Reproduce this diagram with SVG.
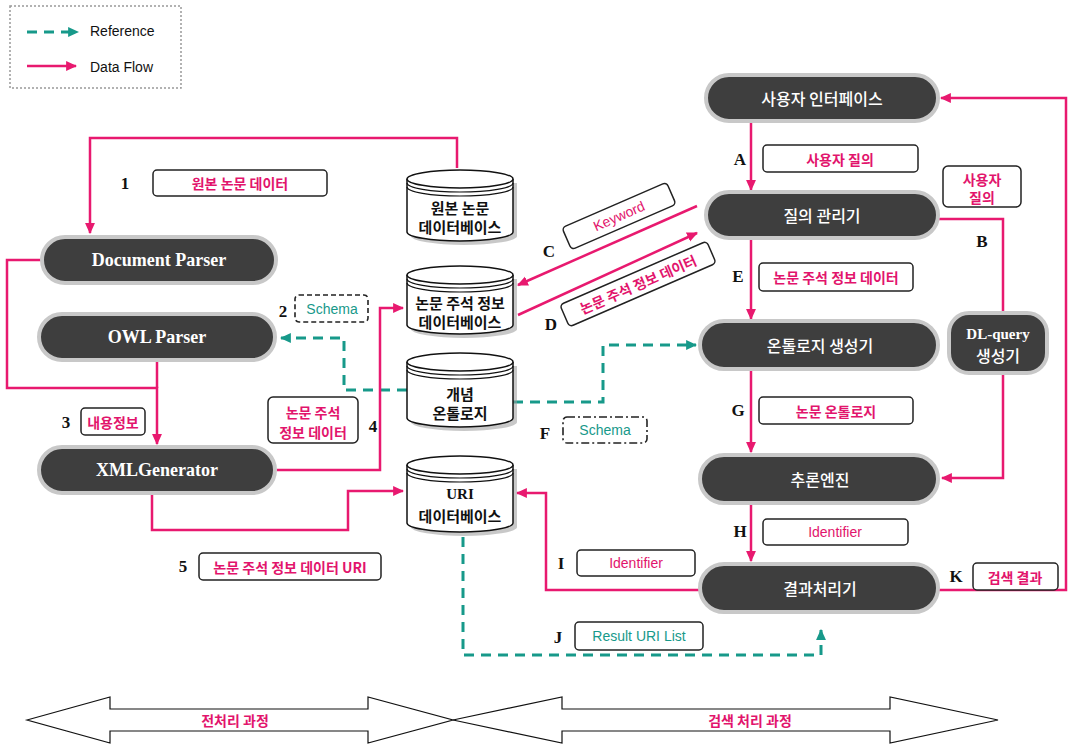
<svg xmlns="http://www.w3.org/2000/svg" width="1069" height="745" viewBox="0 0 1069 745">
<style>
.pill{fill:#3e3e3e;stroke:#c8c8c8;stroke-width:4}
.nt{fill:#fff;font-family:"Noto Sans CJK KR",sans-serif;font-size:16px;font-weight:500;text-anchor:middle;dominant-baseline:central}
.ne{fill:#fff;font-family:"Liberation Serif",serif;font-size:18px;font-weight:bold;text-anchor:middle;dominant-baseline:central}
.cyl{fill:#fff;stroke:#111;stroke-width:1.5}
.cylsh{fill:#9a9a9a;opacity:.55}
.ring{fill:none;stroke:#111;stroke-width:1.2}
.ct{fill:#111;font-family:"Noto Sans CJK KR",sans-serif;font-size:15px;font-weight:bold;text-anchor:middle;dominant-baseline:central}
.box{fill:#fff;stroke:#222;stroke-width:1.5}
.dbox{fill:#fff;stroke:#222;stroke-width:1.6;stroke-dasharray:5,3}
.ddbox{fill:#fff;stroke:#222;stroke-width:1.6;stroke-dasharray:8,3,2,3}
.lk{fill:#e2146c;font-family:"Noto Sans CJK KR",sans-serif;font-size:14px;font-weight:bold;text-anchor:middle;dominant-baseline:central}
.le{fill:#e2146c;font-family:"Liberation Sans",sans-serif;font-size:14px;text-anchor:middle;dominant-baseline:central}
.lt{fill:#17998a;font-family:"Liberation Sans",sans-serif;font-size:14px;text-anchor:middle;dominant-baseline:central}
.let{fill:#111;font-family:"Liberation Serif",serif;font-size:17px;font-weight:bold;text-anchor:middle;dominant-baseline:central}
.pk{fill:none;stroke:#e8196f;stroke-width:2.5}
.tl{fill:none;stroke:#17998a;stroke-width:3;stroke-dasharray:10,7}
.bar{fill:#fff;stroke:#111;stroke-width:1.2}
.leg{fill:#111;font-family:"Liberation Sans",sans-serif;font-size:14px;dominant-baseline:central}
</style>
<defs>
<marker id="ap" viewBox="0 0 10 10" refX="9" refY="5" markerWidth="11" markerHeight="11" markerUnits="userSpaceOnUse" orient="auto"><path d="M0,0.5 L10,5 L0,9.5 z" fill="#e8196f"/></marker>
<marker id="at" viewBox="0 0 10 10" refX="9" refY="5" markerWidth="11" markerHeight="11" markerUnits="userSpaceOnUse" orient="auto"><path d="M0,0.5 L10,5 L0,9.5 z" fill="#17998a"/></marker>
</defs>
<rect width="1069" height="745" fill="#fff"/>

<g id="legend">
<rect x="10" y="6" width="171" height="82" fill="none" stroke="#999" stroke-width="1.5" stroke-dasharray="2,2"/>
<path d="M27,32 H78" class="tl" stroke-dasharray="8,6" marker-end="url(#at)"/>
<text x="90" y="31" class="leg">Reference</text>
<path d="M27,66 H76" class="pk" marker-end="url(#ap)"/>
<text x="90" y="67" class="leg">Data Flow</text>
</g>

<g id="connectors">
<path class="pk" d="M457,168 V138 H90 V233" marker-end="url(#ap)"/>
<path class="pk" d="M42,260 H7 V388 H157 V444" marker-end="url(#ap)"/>
<path class="pk" d="M157,360 V388"/>
<path class="tl" d="M407,390 H344 V338 H281" marker-end="url(#at)"/>
<path class="pk" d="M277,470 H380 V308 H403" marker-end="url(#ap)"/>
<path class="pk" d="M152,493 V530 H348 V491 H403" marker-end="url(#ap)"/>
<path class="pk" d="M751,122 V190" marker-end="url(#ap)"/>
<path class="pk" d="M697,206 L518,285" marker-end="url(#ap)"/>
<path class="pk" d="M518,315 L697,233" marker-end="url(#ap)"/>
<path class="pk" d="M938,219 H1003 V313"/>
<path class="pk" d="M1003,373 V478 H942" marker-end="url(#ap)"/>
<path class="pk" d="M751,238 V319" marker-end="url(#ap)"/>
<path class="tl" d="M513,402 H603 V345 H696" marker-end="url(#at)"/>
<path class="pk" d="M751,370 V452" marker-end="url(#ap)"/>
<path class="pk" d="M751,503 V561" marker-end="url(#ap)"/>
<path class="pk" d="M700,590 H546 V493 H517" marker-end="url(#ap)"/>
<path class="tl" d="M463,537 V655 H821 V630" marker-end="url(#at)"/>
<path class="pk" d="M938,590 H1066 V98 H941" marker-end="url(#ap)"/>
</g>

<g id="n-docparser"><rect class="pill" x="42" y="237" width="234" height="46" rx="23"/><text class="ne" x="159" y="260">Document Parser</text></g>
<g id="n-owlparser"><rect class="pill" x="39" y="314" width="236" height="46" rx="23"/><text class="ne" x="157" y="337">OWL Parser</text></g>
<g id="n-xmlgen"><rect class="pill" x="39" y="447" width="236" height="46" rx="23"/><text class="ne" x="157" y="470">XMLGenerator</text></g>
<g id="n-ui"><rect class="pill" x="706" y="75" width="232" height="46" rx="23"/><text class="nt" x="822" y="98">사용자 인터페이스</text></g>
<g id="n-query"><rect class="pill" x="706" y="192" width="232" height="46" rx="23"/><text class="nt" x="822" y="215">질의 관리기</text></g>
<g id="n-ontogen"><rect class="pill" x="700" y="321" width="238" height="48" rx="24"/><text class="nt" x="820" y="345">온톨로지 생성기</text></g>
<g id="n-reason"><rect class="pill" x="700" y="455" width="238" height="48" rx="24"/><text class="nt" x="820" y="479">추론엔진</text></g>
<g id="n-result"><rect class="pill" x="700" y="564" width="238" height="48" rx="24"/><text class="nt" x="820" y="588">결과처리기</text></g>
<g id="n-dlquery"><rect class="pill" x="949" y="313" width="98" height="60" rx="20"/><text class="ne" x="998" y="334" style="font-size:15px">DL-query</text><text class="nt" x="998" y="355">생성기</text></g>

<g id="db-orig">
<path class="cylsh" d="M411,183 V236 A53,9 0 0 0 517,236 V183 z"/>
<path class="cyl" d="M407,179 V232 A53,9 0 0 0 513,232 V179"/>
<ellipse class="cyl" cx="460" cy="179" rx="53" ry="9"/>
<path class="ring" d="M407,183 A53,9 0 0 0 513,183 M407,187 A53,9 0 0 0 513,187"/>
<text class="ct" x="460" y="207">원본 논문</text><text class="ct" x="460" y="226">데이터베이스</text>
</g>
<g id="db-annot">
<path class="cylsh" d="M411,279 V329 A53,9 0 0 0 517,329 V279 z"/>
<path class="cyl" d="M407,275 V325 A53,9 0 0 0 513,325 V275"/>
<ellipse class="cyl" cx="460" cy="275" rx="53" ry="9"/>
<path class="ring" d="M407,279 A53,9 0 0 0 513,279 M407,283 A53,9 0 0 0 513,283"/>
<text class="ct" x="460" y="302">논문 주석 정보</text><text class="ct" x="460" y="321">데이터베이스</text>
</g>
<g id="db-concept">
<path class="cylsh" d="M411,366 V422 A53,9 0 0 0 517,422 V366 z"/>
<path class="cyl" d="M407,362 V418 A53,9 0 0 0 513,418 V362"/>
<ellipse class="cyl" cx="460" cy="362" rx="53" ry="9"/>
<path class="ring" d="M407,366 A53,9 0 0 0 513,366 M407,370 A53,9 0 0 0 513,370"/>
<text class="ct" x="460" y="393">개념</text><text class="ct" x="460" y="412">온톨로지</text>
</g>
<g id="db-uri">
<path class="cylsh" d="M411,469 V527 A53,9 0 0 0 517,527 V469 z"/>
<path class="cyl" d="M407,465 V523 A53,9 0 0 0 513,523 V465"/>
<ellipse class="cyl" cx="460" cy="465" rx="53" ry="9"/>
<path class="ring" d="M407,469 A53,9 0 0 0 513,469 M407,473 A53,9 0 0 0 513,473"/>
<text class="ct" x="460" y="494" style="font-family:'Liberation Serif',serif">URI</text><text class="ct" x="460" y="515">데이터베이스</text>
</g>

<g id="labels">
<text class="let" x="125" y="183">1</text>
<rect class="box" x="153" y="170" width="174" height="26" rx="4"/><text class="lk" x="240" y="183">원본 논문 데이터</text>
<text class="let" x="283" y="311">2</text>
<rect class="dbox" x="295" y="295" width="73" height="27" rx="4"/><text class="lt" x="332" y="309">Schema</text>
<text class="let" x="66" y="422">3</text>
<rect class="box" x="81" y="408" width="64" height="27" rx="4"/><text class="lk" x="113" y="422">내용정보</text>
<text class="let" x="373" y="426">4</text>
<rect class="box" x="268" y="397" width="90" height="46" rx="5"/><text class="lk" x="313" y="412">논문 주석</text><text class="lk" x="313" y="432">정보 데이터</text>
<text class="let" x="183" y="566">5</text>
<rect class="box" x="199" y="553" width="182" height="27" rx="4"/><text class="lk" x="290" y="567">논문 주석 정보 데이터 URI</text>

<text class="let" x="740" y="159">A</text>
<rect class="box" x="763" y="145" width="155" height="27" rx="4"/><text class="lk" x="840" y="159">사용자 질의</text>
<rect class="box" x="943" y="166" width="78" height="41" rx="5"/><text class="lk" x="982" y="179">사용자</text><text class="lk" x="982" y="197">질의</text>
<text class="let" x="982" y="241">B</text>
<text class="let" x="549" y="251">C</text>
<g transform="translate(619,216) rotate(-23.5)"><rect class="box" x="-57" y="-12" width="114" height="24" rx="4"/><text class="le" x="0" y="0">Keyword</text></g>
<text class="let" x="551" y="324">D</text>
<g transform="translate(638,284) rotate(-23.5)"><rect class="box" x="-80" y="-12" width="160" height="24" rx="4"/><text class="lk" x="0" y="0">논문 주석 정보 데이터</text></g>
<text class="let" x="738" y="276">E</text>
<rect class="box" x="759" y="263" width="154" height="28" rx="4"/><text class="lk" x="836" y="277">논문 주석 정보 데이터</text>
<text class="let" x="545" y="433">F</text>
<rect class="ddbox" x="563" y="417" width="84" height="26" rx="4"/><text class="lt" x="605" y="430">Schema</text>
<text class="let" x="738" y="410">G</text>
<rect class="box" x="759" y="397" width="154" height="27" rx="4"/><text class="lk" x="836" y="411">논문 온톨로지</text>
<text class="let" x="740" y="531">H</text>
<rect class="box" x="763" y="519" width="145" height="26" rx="4"/><text class="le" x="835" y="532">Identifier</text>
<text class="let" x="561" y="563">I</text>
<rect class="box" x="577" y="550" width="118" height="26" rx="4"/><text class="le" x="636" y="563">Identifier</text>
<text class="let" x="558" y="637">J</text>
<rect class="box" x="575" y="622" width="128" height="28" rx="4"/><text class="lt" x="639" y="636">Result URI List</text>
<text class="let" x="956" y="576">K</text>
<rect class="box" x="973" y="563" width="85" height="27" rx="4"/><text class="lk" x="1015" y="577">검색 결과</text>
</g>

<g id="phases">
<polygon class="bar" points="27,720 110,697 110,709 368,709 368,697 453,720 368,743 368,731 110,731 110,743"/>
<polygon class="bar" points="453,720 562,697 562,709 890,709 890,697 998,720 890,743 890,731 562,731 562,743"/>
<text class="lk" x="235" y="720">전처리 과정</text>
<text class="lk" x="750" y="720">검색 처리 과정</text>
</g>
</svg>
